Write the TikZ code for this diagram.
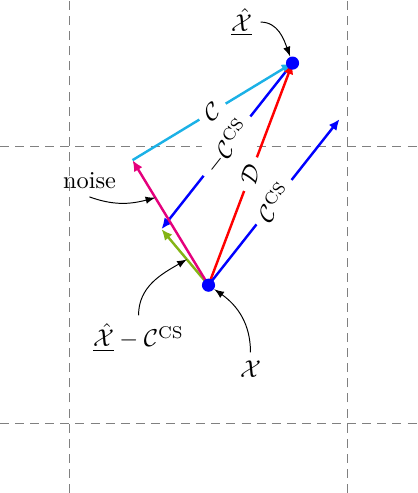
\documentclass[tikz,border=0pt]{standalone}
\usepackage{amsmath}
\usepackage{amssymb}
\usepackage{xcolor}
\usepackage{tikz}
\usetikzlibrary{positioning,arrows.meta}

\definecolor{vcyan}{RGB}{27,177,230}
\definecolor{vmagenta}{RGB}{228,0,124}
\definecolor{vgreen}{RGB}{132,180,20}

\begin{document}
\begin{tikzpicture}[
    vec/.style={-{Latex[length=4.5pt,width=4pt]},line width=1pt},
    note/.style={->,>=latex},
    lbl/.style={midway,sloped,fill=white,text=black},
    dot/.style={circle,fill=blue,inner sep=0pt,minimum size=0.19cm},
    gridline/.style={dash pattern=on 3.7pt off 2.5pt,gray},
  ]
    \useasboundingbox (-3.01,-3.0) rectangle (3.01,4.117);
    \foreach \g in {-2,2} {
      \draw[gridline] (\g,-3.0) -- (\g,4.117);
      \draw[gridline] (-3.01,\g) -- (3.01,\g);
    }

    \coordinate (x) at (0,0);
    \coordinate (xhat) at (1.213,3.206);
    \coordinate (ccs) at (1.892,2.397);
    \coordinate (nz) at (-1.097,1.805);
    \coordinate (diff) at (-0.679,0.809);

    \draw[vec,vgreen] (x) -- coordinate[pos=0.46] (diffpt) (diff);
    \draw[vec,blue] (xhat) -- (diff) node[lbl] {$-\mathcal{C}^{\mathrm{CS}}$};
    \draw[vec,vmagenta] (x) -- coordinate[pos=0.7] (nzpt) (nz);
    \draw[vec,vcyan] (nz) -- (xhat) node[lbl] {$\mathcal{C}$};
    \draw[vec,red] (x) -- (xhat) node[lbl] {$\mathcal{D}$};
    \draw[vec,blue] (x) -- (ccs) node[lbl] {$\mathcal{C}^{\mathrm{CS}}$};

    \node[dot] (xdot) at (x) {};
    \node[dot] (xhdot) at (xhat) {};

    \node (xhlab) at (0.477,3.798) {$\underline{\hat{\mathcal{X}}}$};
    \node (xlab) at (0.606,-1.213) {$\mathcal{X}$};
    \node (nzlab) at (-1.718,1.516) {noise};
    \node (difflab) at (-1.01,-0.76) {$\underline{\hat{\mathcal{X}}}-\mathcal{C}^{\mathrm{CS}}$};

    \draw[note] (xhlab.east) to[out=0,in=110] (xhdot);
    \draw[note] (xlab.north) to[out=90,in=-35] (xdot);
    \draw[note] (nzlab.south) to[out=-20,in=195] (nzpt);
    \draw[note] (difflab.north) to[out=90,in=210] (diffpt);
  \end{tikzpicture}
\end{document}
